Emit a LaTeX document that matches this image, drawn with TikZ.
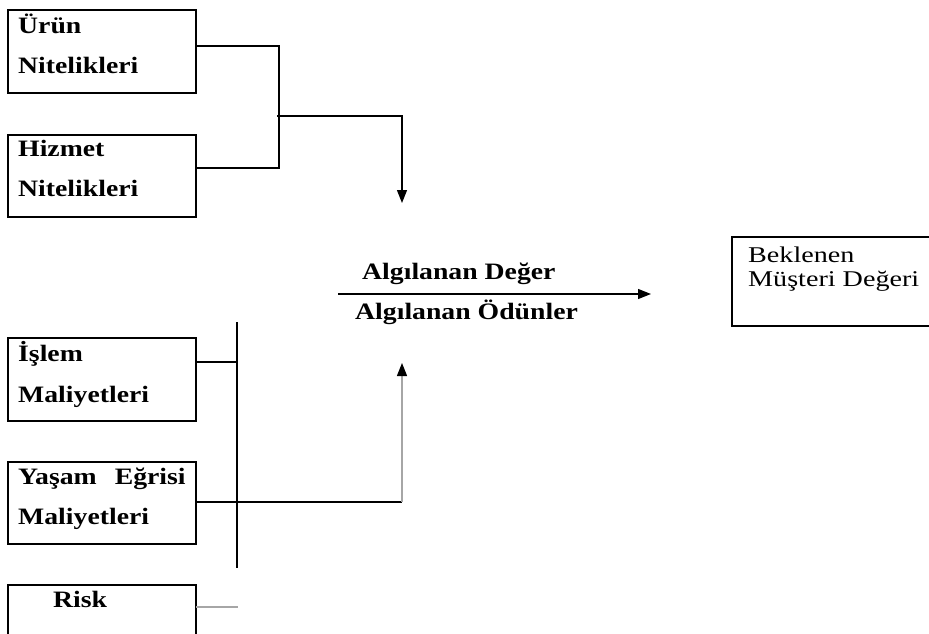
\documentclass[tikz,border=0pt]{standalone}
\usepackage{fontspec}
\setmainfont{Liberation Serif}[FakeStretch=1.18]
\newfontfamily\widefam{Liberation Serif}[FakeStretch=1.25]
\usetikzlibrary{arrows.meta,calc}
\begin{document}
\begin{tikzpicture}[x=1pt,y=-1pt,
  box/.style={draw, line width=1.4pt, inner sep=0pt, outer sep=0pt, anchor=north west,
    minimum width=188pt},
  lbl/.style={anchor=base west, inner sep=0pt, font=\fontsize{23.5}{28}\selectfont\bfseries},
  plain/.style={anchor=base west, inner sep=0pt, font=\widefam\fontsize{22.5}{26}\selectfont},
  link/.style={line width=1.3pt},
  tip/.style={-{Triangle[width=10pt,length=13pt]}}]
\useasboundingbox (0,0) rectangle (929,634);
\clip (0,0) rectangle (929,634);

% boxes
\node[box, minimum height=83pt] (urun) at (8,10) {};
\node[box, minimum height=82pt] (hizmet) at (8,135) {};
\node[box, minimum height=83pt] (islem) at (8,338) {};
\node[box, minimum height=82pt] (yasam) at (8,462) {};
\node[box, minimum height=70pt] (risk) at (8,585) {};
\node[box, minimum width=200pt, minimum height=89pt] (beklenen) at (732,237) {};

% box texts
\node[lbl] (t1) at (18,34) {Ürün};
\node[lbl] (t2) at (18,74) {Nitelikleri};
\node[lbl] (t3) at (18,156) {Hizmet};
\node[lbl] (t4) at (18,196) {Nitelikleri};
\node[lbl] (t5) at (18,361) {İşlem};
\node[lbl] (t6) at (18,402) {Maliyetleri};
\node[lbl] (t7) at (18,484) {Yaşam\hspace{18pt}Eğrisi};
\node[lbl] (t8) at (18,524) {Maliyetleri};
\node[lbl] (t9) at (53,607) {Risk};
\node[plain] (b1) at (748,262) {Beklenen};
\node[plain] (b2) at (748,286) {Müşteri Değeri};

% central ratio
\node[lbl] (num) at (362,279) {Algılanan Değer};
\node[lbl] (den) at (355,319) {Algılanan Ödünler};

% joints
\coordinate (j1) at (279,46);
\coordinate (j2) at (279,168);
\coordinate (j3) at (277,116);
\coordinate (j4) at (402,116);
\coordinate (top) at (402,203);
\coordinate (bar1) at (237,322);
\coordinate (bar2) at (237,568);
\coordinate (j5) at (402,502);
\coordinate (bot) at (402,363);
\coordinate (fracL) at (338,294);
\coordinate (fracR) at (651,294);

% upper bracket
\draw[link] (urun.east |- j1) -- (j1) -- (j2) -- (hizmet.east |- j2);
\draw[link, tip] (j3) -- (j4) -- (top);

% lower bracket
\draw[link] (bar1) -- (bar2);
\draw[link] (islem.east |- 0,362) -- (237,362);
\draw[link] (yasam.east |- j5) -- (j5);
\draw[link, gray!70, -{Triangle[width=10pt,length=13pt,fill=black,color=black]}] (j5) -- (bot);
\draw[link, gray!70] (risk.east |- 0,607) -- (238,607);

% fraction arrow
\draw[link, tip] (fracL) -- (fracR);
\end{tikzpicture}
\end{document}
